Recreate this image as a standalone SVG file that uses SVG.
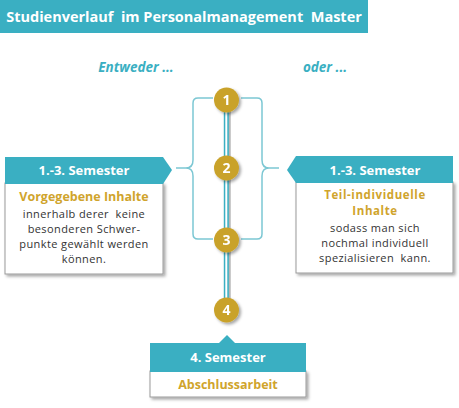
<svg xmlns="http://www.w3.org/2000/svg" width="459" height="408" viewBox="0 0 459 408">
<defs>
<style>
text{white-space:pre}
.teal{fill:#3AAFC2}
.body{fill:#ffffff;stroke:#9a9a9a;stroke-width:1}
.hd{font-family:"Open Sans","DejaVu Sans",sans-serif;font-weight:bold;font-size:13px;fill:#ffffff;text-anchor:middle}
.gold{font-family:"Open Sans","DejaVu Sans",sans-serif;font-weight:bold;font-size:12.5px;fill:#D0A42C;text-anchor:middle}
.gs{font-size:11.5px;letter-spacing:0.6px}
.txt{font-family:"Open Sans","DejaVu Sans",sans-serif;font-size:11px;letter-spacing:0.4px;fill:#333333;text-anchor:middle}
.num{font-family:"Open Sans","DejaVu Sans",sans-serif;font-weight:bold;font-size:14px;fill:#ffffff;text-anchor:middle}
.brace{fill:none;stroke:#7CC7D3;stroke-width:1.5}
.or{font-family:"Open Sans","DejaVu Sans",sans-serif;font-weight:bold;font-style:italic;font-size:13.5px;fill:#3AAFC2;text-anchor:middle}
</style>
<filter id="sh" x="-20%" y="-20%" width="150%" height="150%">
<feDropShadow dx="2" dy="2" stdDeviation="1.5" flood-color="#000" flood-opacity="0.35"/>
</filter>
</defs>
<g id="title">
<rect x="0" y="0" width="368" height="33" class="teal"/>
<text x="184" y="22" class="hd" style="font-size:14.5px">Studienverlauf  im Personalmanagement  Master</text>
</g>
<text x="136" y="72" class="or">Entweder ...</text>
<text x="325" y="72" class="or">oder ...</text>
<g id="connectors">
<path class="brace" d="M213,98 H198 Q193,98 193,103 V160 Q193,168 186,168 H176 M186,168 Q193,168 193,176 V234 Q193,239 198,239 H213"/>
<path class="brace" d="M241,98 H257 Q262,98 262,103 V160 Q262,168 269,168 H279 M269,168 Q262,168 262,176 V234 Q262,239 257,239 H241"/>
<rect x="223.8" y="100" width="5" height="211" fill="#3AAFC2" filter="url(#sh)"/>
<rect x="225.3" y="100" width="2" height="211" fill="#ffffff"/>
</g>
<g id="n1" filter="url(#sh)">
<circle cx="226.5" cy="100" r="12.5" fill="#C9A22A"/>
<text x="226.5" y="105" class="num">1</text>
</g>
<g id="n2" filter="url(#sh)">
<circle cx="226.5" cy="168" r="12.5" fill="#C9A22A"/>
<text x="226.5" y="173" class="num">2</text>
</g>
<g id="n3" filter="url(#sh)">
<circle cx="226.5" cy="240" r="12.5" fill="#C9A22A"/>
<text x="226.5" y="245" class="num">3</text>
</g>
<g id="n4" filter="url(#sh)">
<circle cx="226.5" cy="310" r="12.5" fill="#C9A22A"/>
<text x="226.5" y="315" class="num">4</text>
</g>
<g id="left">
<rect x="5" y="183" width="158" height="91" class="body" filter="url(#sh)"/>
<path d="M5,157 H163 L172,170 L163,184 H5 Z" class="teal"/>
<text x="84" y="175" class="hd">1.-3. Semester</text>
<text x="84" y="201" class="gold">Vorgegebene Inhalte</text>
<text x="84" y="218" class="txt">innerhalb derer  keine</text>
<text x="84" y="233" class="txt">besonderen Schwer-</text>
<text x="84" y="248" class="txt">punkte gewählt werden</text>
<text x="84" y="263" class="txt">können.</text>
</g>
<g id="right">
<rect x="296" y="182" width="157" height="91" class="body" filter="url(#sh)"/>
<path d="M296,156 H453 V183 H296 L287,170 Z" class="teal"/>
<text x="375" y="175" class="hd">1.-3. Semester</text>
<text x="375" y="199" class="gold gs">Teil-individuelle</text>
<text x="375" y="215" class="gold gs">Inhalte</text>
<text x="375" y="232" class="txt">sodass man sich</text>
<text x="375" y="247" class="txt">nochmal individuell</text>
<text x="375" y="262" class="txt">spezialisieren  kann.</text>
</g>
<g id="bottom">
<rect x="150" y="371" width="156" height="26" class="body" filter="url(#sh)"/>
<path d="M150,343 H219 L227,335 L235,343 H306 V372 H150 Z" class="teal"/>
<text x="228" y="362" class="hd">4. Semester</text>
<text x="228" y="389" class="gold">Abschlussarbeit</text>
</g>
</svg>
